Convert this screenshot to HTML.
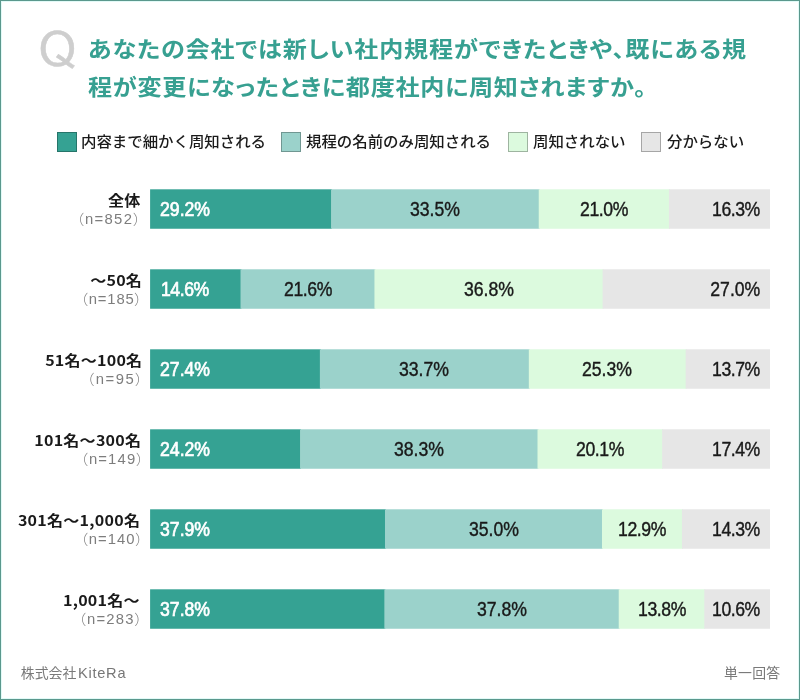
<!DOCTYPE html><html lang="ja"><head><meta charset="utf-8"><title>chart</title><style>
*{margin:0;padding:0;box-sizing:border-box}
html,body{width:800px;height:700px;background:#fff;overflow:hidden}
body{position:relative;font-family:"Liberation Sans","Noto Sans CJK JP",sans-serif;color:#1a1a1a}
.frame{position:absolute;left:0;top:0;width:800px;height:700px;border:1px solid #5b988d;box-shadow:inset 0 0 0 1px #e2faf7;}
svg.bars{position:absolute;left:0;top:0;width:800px;height:700px}
.t{position:absolute;white-space:nowrap;line-height:1;}
.l{transform-origin:0 0}
.r{transform-origin:100% 0}
.c{transform-origin:50% 0}
.q{left:38.4px;top:25.9px;font-size:46.7px;color:#cecece;-webkit-text-stroke:0.45px #cecece;font-family:"IPAPGothic","DejaVu Sans",sans-serif;transform:scaleX(1.045);}
.title{left:88.0px;font-size:22.1px;font-weight:700;color:#37a091;font-family:"Noto Sans CJK JP",sans-serif;font-feature-settings:"palt";transform:scaleX(1.09);}
.lg{font-size:14.6px;font-weight:500;letter-spacing:-0.05px;margin-left:-0.1px;color:#1a1a1a;font-family:"Noto Sans CJK JP",sans-serif;top:134.0px;transform:scaleX(1.06);}
.box{position:absolute;top:132px;width:20px;height:20px;border:1px solid rgba(0,0,0,.28)}
.name{font-size:14.6px;font-weight:700;font-family:"Noto Sans CJK JP",sans-serif;transform:scaleX(1.1);color:#1a1a1a}
.n{font-size:14px;font-weight:300;font-family:"Liberation Sans","Noto Sans CJK JP",sans-serif;font-feature-settings:"palt";transform:scaleX(1.06);color:#7d7d7d}
.v{font-size:19.5px;font-family:"Liberation Sans",sans-serif;color:#1a1a1a;-webkit-text-stroke:0.4px #1a1a1a;}
.v.w{color:#fff;-webkit-text-stroke:0.7px #fff}
.foot{font-size:13.9px;font-weight:400;color:#7a7a7a;font-family:"Noto Sans CJK JP",sans-serif;top:666px;}
.foot i{font-style:normal;font-family:"Liberation Sans",sans-serif;font-size:14.6px;letter-spacing:0.75px;color:#777;margin-left:1.6px;position:relative;top:-0.3px}
</style></head><body>
<svg class="bars" viewBox="0 0 800 700"><rect x="150.10" y="189.30" width="181.94" height="39.45" fill="#35a293"/><rect x="331.04" y="189.30" width="208.70" height="39.45" fill="#9bd2cb"/><rect x="538.74" y="189.30" width="131.20" height="39.45" fill="#dcfade"/><rect x="668.94" y="189.30" width="101.06" height="39.45" fill="#e6e6e6"/><rect x="150.10" y="269.30" width="91.42" height="39.45" fill="#35a293"/><rect x="240.52" y="269.30" width="134.92" height="39.45" fill="#9bd2cb"/><rect x="374.44" y="269.30" width="229.16" height="39.45" fill="#dcfade"/><rect x="602.60" y="269.30" width="167.40" height="39.45" fill="#e6e6e6"/><rect x="150.10" y="349.30" width="170.78" height="39.45" fill="#35a293"/><rect x="319.88" y="349.30" width="209.94" height="39.45" fill="#9bd2cb"/><rect x="528.82" y="349.30" width="157.86" height="39.45" fill="#dcfade"/><rect x="685.68" y="349.30" width="84.32" height="39.45" fill="#e6e6e6"/><rect x="150.10" y="429.30" width="150.94" height="39.45" fill="#35a293"/><rect x="300.04" y="429.30" width="238.46" height="39.45" fill="#9bd2cb"/><rect x="537.50" y="429.30" width="125.62" height="39.45" fill="#dcfade"/><rect x="662.12" y="429.30" width="107.88" height="39.45" fill="#e6e6e6"/><rect x="150.10" y="509.30" width="235.88" height="39.45" fill="#35a293"/><rect x="384.98" y="509.30" width="218.00" height="39.45" fill="#9bd2cb"/><rect x="601.98" y="509.30" width="80.98" height="39.45" fill="#dcfade"/><rect x="681.96" y="509.30" width="88.04" height="39.45" fill="#e6e6e6"/><rect x="150.10" y="589.30" width="235.26" height="39.45" fill="#35a293"/><rect x="384.36" y="589.30" width="235.36" height="39.45" fill="#9bd2cb"/><rect x="618.72" y="589.30" width="86.56" height="39.45" fill="#dcfade"/><rect x="704.28" y="589.30" width="65.72" height="39.45" fill="#e6e6e6"/></svg>
<div class="frame"></div>
<div class="t l q">Q</div>
<div class="t l title" style="top:36.1px;letter-spacing:0.78px">あなたの会社では新しい社内規程ができたときや、既にある規</div>
<div class="t l title" style="top:74.1px;letter-spacing:0.65px">程が変更になったときに都度社内に周知されますか。</div>
<div class="box" style="left:57px;background:#35a293"></div>
<div class="t l lg" style="left:81px">内容まで細かく周知される</div>
<div class="box" style="left:281px;background:#9bd2cb"></div>
<div class="t l lg" style="left:306px">規程の名前のみ周知される</div>
<div class="box" style="left:508px;background:#dcfade"></div>
<div class="t l lg" style="left:533px">周知されない</div>
<div class="box" style="left:641px;background:#e6e6e6"></div>
<div class="t l lg" style="left:667px">分からない</div>
<div class="t r name" id="name0" style="right:660.00px;top:193.10px;letter-spacing:0.00px">全体</div>
<div class="t r n" id="n0" style="right:657.70px;top:212.10px;letter-spacing:1.23px">（n=852）</div>
<div class="t l v w" style="left:160.0px;top:200.00px;transform:scaleX(0.905)">29.2%</div>
<div class="t c v" style="left:384.9px;width:100px;text-align:center;top:200.00px;transform:scaleX(0.905)">33.5%</div>
<div class="t c v" style="left:553.8px;width:100px;text-align:center;top:200.00px;transform:scaleX(0.905);letter-spacing:-0.5px">21.0%</div>
<div class="t r v" style="right:40.4px;top:200.00px;transform:scaleX(0.905);letter-spacing:-0.5px">16.3%</div>
<div class="t r name" id="name1" style="right:658.20px;top:273.10px;letter-spacing:0.15px">～50名</div>
<div class="t r n" id="n1" style="right:656.60px;top:292.10px;letter-spacing:0.80px">（n=185）</div>
<div class="t l v w" style="left:161.2px;top:280.00px;transform:scaleX(0.905);letter-spacing:-0.5px">14.6%</div>
<div class="t c v" style="left:257.5px;width:100px;text-align:center;top:280.00px;transform:scaleX(0.905);letter-spacing:-0.5px">21.6%</div>
<div class="t c v" style="left:438.5px;width:100px;text-align:center;top:280.00px;transform:scaleX(0.905)">36.8%</div>
<div class="t r v" style="right:40.0px;top:280.00px;transform:scaleX(0.905)">27.0%</div>
<div class="t r name" id="name2" style="right:657.70px;top:353.10px;letter-spacing:0.19px">51名～100名</div>
<div class="t r n" id="n2" style="right:655.70px;top:372.10px;letter-spacing:1.45px">（n=95）</div>
<div class="t l v w" style="left:160.0px;top:360.00px;transform:scaleX(0.905)">27.4%</div>
<div class="t c v" style="left:374.3px;width:100px;text-align:center;top:360.00px;transform:scaleX(0.905)">33.7%</div>
<div class="t c v" style="left:557.2px;width:100px;text-align:center;top:360.00px;transform:scaleX(0.905)">25.3%</div>
<div class="t r v" style="right:40.4px;top:360.00px;transform:scaleX(0.905);letter-spacing:-0.5px">13.7%</div>
<div class="t r name" id="name3" style="right:658.50px;top:433.10px;letter-spacing:0.20px">101名～300名</div>
<div class="t r n" id="n3" style="right:655.50px;top:452.10px;letter-spacing:1.08px">（n=149）</div>
<div class="t l v w" style="left:160.0px;top:440.00px;transform:scaleX(0.905)">24.2%</div>
<div class="t c v" style="left:368.8px;width:100px;text-align:center;top:440.00px;transform:scaleX(0.905)">38.3%</div>
<div class="t c v" style="left:549.8px;width:100px;text-align:center;top:440.00px;transform:scaleX(0.905);letter-spacing:-0.5px">20.1%</div>
<div class="t r v" style="right:40.4px;top:440.00px;transform:scaleX(0.905);letter-spacing:-0.5px">17.4%</div>
<div class="t r name" id="name4" style="right:659.30px;top:513.10px;letter-spacing:0.22px">301名～1,000名</div>
<div class="t r n" id="n4" style="right:655.80px;top:532.10px;letter-spacing:0.94px">（n=140）</div>
<div class="t l v w" style="left:160.0px;top:520.00px;transform:scaleX(0.905)">37.9%</div>
<div class="t c v" style="left:443.5px;width:100px;text-align:center;top:520.00px;transform:scaleX(0.905)">35.0%</div>
<div class="t c v" style="left:592.0px;width:100px;text-align:center;top:520.00px;transform:scaleX(0.905);letter-spacing:-0.5px">12.9%</div>
<div class="t r v" style="right:40.4px;top:520.00px;transform:scaleX(0.905);letter-spacing:-0.5px">14.3%</div>
<div class="t r name" id="name5" style="right:659.90px;top:593.10px;letter-spacing:0.21px">1,001名～</div>
<div class="t r n" id="n5" style="right:656.70px;top:612.10px;letter-spacing:1.17px">（n=283）</div>
<div class="t l v w" style="left:160.0px;top:600.00px;transform:scaleX(0.905)">37.8%</div>
<div class="t c v" style="left:451.5px;width:100px;text-align:center;top:600.00px;transform:scaleX(0.905)">37.8%</div>
<div class="t c v" style="left:611.5px;width:100px;text-align:center;top:600.00px;transform:scaleX(0.905);letter-spacing:-0.5px">13.8%</div>
<div class="t r v" style="right:40.4px;top:600.00px;transform:scaleX(0.905);letter-spacing:-0.5px">10.6%</div>
<div class="t l foot" style="left:20.8px">株式会社<i>KiteRa</i></div>
<div class="t r foot" style="right:19.6px;letter-spacing:0.2px">単一回答</div>
</body></html>
